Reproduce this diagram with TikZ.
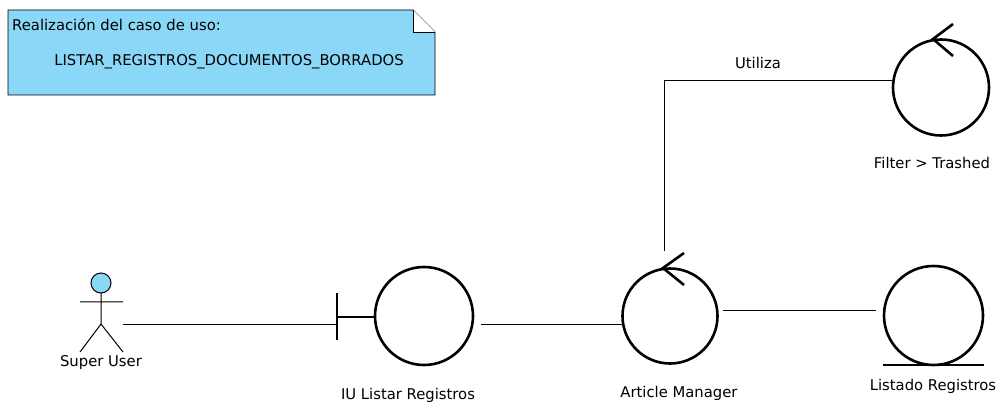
\documentclass[tikz,border=0pt]{standalone}
\usepackage{fontspec}
\setmainfont{DejaVu Sans}
\begin{document}
\begin{tikzpicture}[x=1pt,y=-1pt,
  lbl/.style={font=\fontsize{14.8}{17}\selectfont, inner sep=0pt},
  sym/.style={line width=2.6pt},
  conn/.style={line width=1pt}]
\useasboundingbox (0,0) rectangle (1001,403);
\definecolor{vpblue}{HTML}{8AD7F7}
% note
\draw[fill=vpblue, line width=0.9pt] (8,10) -- (413,10) -- (435,32) -- (435,95) -- (8,95) -- cycle;
\draw[fill=white, line width=0.9pt] (413,10) -- (413,32) -- (435,32);
\node[lbl, anchor=west] (notetitle) at (12,25) {Realización del caso de uso:};
\node[lbl] (notebody) at (229,62) {LISTAR\_REGISTROS\_DOCUMENTOS\_BORRADOS};
% actor
\draw[fill=vpblue, line width=1pt] (101,283) circle (10);
\draw[line width=1pt] (101,293) -- (101,324) (80,302) -- (123,302) (80,352) -- (101,324) -- (123,352);
\coordinate (actor) at (123,324);
\node[lbl] (actorlbl) at (101,363) {Super User};
% boundary
\draw[sym] (424,316) circle (49);
\draw[sym] (337,293) -- (337,340) (337,317) -- (375,317);
\coordinate (bleft) at (336,324);
\coordinate (bright) at (481,324);
\node[lbl] (blbl) at (408,395) {IU Listar Registros};
% control article manager
\draw[sym] (670,316) circle (47.5);
\draw[sym] (684,253) -- (663,268) -- (684,285);
\coordinate (cleft) at (622,324);
\coordinate (cright) at (723,310);
\coordinate (ctop) at (664,251);
\node[lbl] (clbl) at (679,393) {Article Manager};
% entity
\draw[sym] (933.5,315.5) circle (49.5);
\draw[sym] (883,365) -- (984,365);
\coordinate (eleft) at (876,310);
\node[lbl] (elbl) at (933,386) {Listado Registros};
% filter control
\draw[sym] (941,87.5) circle (48);
\draw[sym] (953,24) -- (933,39) -- (953,56);
\coordinate (fleft) at (892,81);
\node[lbl] (flbl) at (932,163) {Filter > Trashed};
% connectors
\draw[conn] (actor) -- (bleft);
\draw[conn] (bright) -- (cleft);
\draw[conn] (cright) -- (eleft);
\draw[conn] (ctop) |- (fleft) node[lbl, pos=0.706, above=12pt] (ulbl) {Utiliza};
\end{tikzpicture}
\end{document}
